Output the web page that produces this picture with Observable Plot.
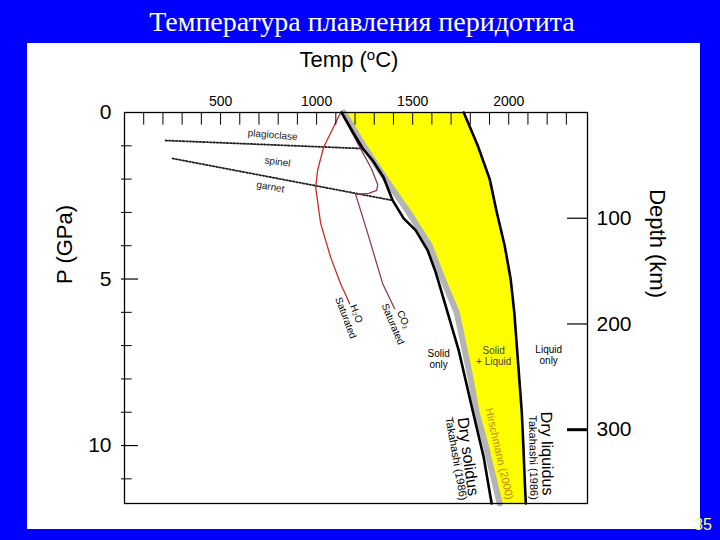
<!DOCTYPE html>
<html><head><meta charset="utf-8">
<script src="https://cdn.jsdelivr.net/npm/d3@7"></script>
<script src="https://cdn.jsdelivr.net/npm/@observablehq/plot@0.6"></script>
<style>
html,body{margin:0;padding:0;}
body{width:720px;height:540px;background:#0000ff;position:relative;overflow:hidden;font-family:"Liberation Sans",Arial,sans-serif;}
#title{position:absolute;left:0;top:4px;width:724px;text-align:center;color:#fff;font-family:"Liberation Serif","Times New Roman",serif;font-size:28px;line-height:36px;white-space:nowrap;}
#panel{position:absolute;left:27px;top:43px;width:673px;height:486px;background:#fff;}
#chart{position:absolute;left:0;top:0;}
#xlabel{position:absolute;left:222px;top:3px;width:200px;text-align:center;font-size:22px;line-height:28px;color:#000;}
#xlabel sup{font-size:15px;vertical-align:7px;line-height:0;}
#page{position:absolute;left:694px;top:515px;color:#ffff80;font-size:16px;line-height:20px;}
</style></head>
<body>
<div id="title">Температура плавления перидотита</div>
<div id="panel"><div id="chart"></div><div id="xlabel">Temp (<sup>o</sup>C)</div></div>
<div id="page">35</div>
<script>
// ---- data (T in °C, P in GPa) ----
const bandP    = [0, 1, 2, 3, 4, 5, 6, 7, 8, 9, 10, 11, 11.74];
const hirschT  = [1141, 1245, 1359, 1479, 1589, 1656, 1729, 1766, 1802, 1833, 1880, 1922, 1953];
const liquidT  = [1766, 1839, 1901, 1938, 1979, 2010, 2029, 2042, 2055, 2068, 2076, 2083, 2089];

const solidusP = [0, 0.6, 1.08, 1.44, 1.95, 2.34, 2.64, 3.18, 3.54, 4.14, 4.8, 5.5, 7.15, 8.95, 10.36, 11.74];
const solidusT = [1130, 1190, 1240, 1292, 1349, 1375, 1396, 1453, 1516, 1578, 1620, 1656, 1740, 1812, 1870, 1911];

const h2oP = [0, 1.05, 1.74, 2.25, 3.33, 4.35, 5.14, 5.74];
const h2oT = [1125, 1036, 1005, 995, 1021, 1073, 1125, 1172];

const co2P = [0, 1.1, 1.68, 2.16, 2.34, 2.43, 2.46, 3.63, 5.14, 5.89];
const co2T = [1128, 1230, 1285, 1318, 1313, 1271, 1203, 1266, 1344, 1406];

const plagBoundT = [214, 1229];
const plagBoundP = [0.84, 1.08];
const garnetBoundT = [250, 1396];
const garnetBoundP = [1.38, 2.64];

const tempTickLabels = [500, 1000, 1500, 2000];
const tempMinorTicks = [100,200,300,400,500,600,700,800,900,1000,1100,1200,1300,1400,1500,1600,1700,1800,1900,2000,2100,2200,2300];
const pTickLabels = [0, 5, 10];
const pMinorTicks = [1, 2, 3, 4, 6, 7, 8, 9, 11];
const depthTicks = [100, 200, 300];
const kmPerGPa = 31.5;

// ---- build tables ----
const zip = (Ts, Ps) => Ts.map((T, i) => ({T, P: Ps[i]}));
const band = bandP.map((P, i) => ({P, Tg: hirschT[i], Tl: liquidT[i]}));
const solidus = zip(solidusT, solidusP);
const h2o = zip(h2oT, h2oP);
const co2 = zip(co2T, co2P);
const plagB = zip(plagBoundT, plagBoundP);
const garnetB = zip(garnetBoundT, garnetBoundP);

const labels = [
  {text: "plagioclase", T: 771, P: 0.66, r: 5, fs: 10, c: "#222"},
  {text: "spinel", T: 797, P: 1.47, r: 8, fs: 10, c: "#222"},
  {text: "garnet", T: 760, P: 2.22, r: 10, fs: 10, c: "#222"},
  {text: "H₂O\nSaturated", T: 1182, P: 6.1, r: 69, fs: 10, c: "#000"},
  {text: "CO₂\nSaturated", T: 1427, P: 6.28, r: 67, fs: 10, c: "#000"},
  {text: "Solid\nonly", T: 1635, P: 7.39, r: 0, fs: 10, c: "#000"},
  {text: "Solid\n+ Liquid", T: 1922, P: 7.3, r: 0, fs: 10, c: "#444"},
  {text: "Liquid\nonly", T: 2208, P: 7.27, r: 0, fs: 10, c: "#000"},
  {text: "Dry solidus", T: 1792, P: 10.33, r: 82, fs: 16, c: "#000"},
  {text: "Takahashi (1986)", T: 1729, P: 10.39, r: 80, fs: 11, c: "#000"},
  {text: "Hirschmann (2000)", T: 1953, P: 10.24, r: 77, fs: 11, c: "#c08a00"},
  {text: "Dry liquidus", T: 2203, P: 10.24, r: 89, fs: 16, c: "#000"},
  {text: "Takahashi (1986)", T: 2130, P: 10.36, r: 89, fs: 11, c: "#000"}
];

const textMarks = labels.map(d => Plot.text([d], {
  x: "T", y: "P", text: "text", rotate: d.r, fontSize: d.fs, fill: d.c,
  textAnchor: "middle", lineAnchor: "middle", lineHeight: 1.15
}));

const chart = Plot.plot({
  width: 673, height: 486,
  marginLeft: 97, marginRight: 113, marginTop: 69, marginBottom: 26,
  style: {fontFamily: '"Liberation Sans", Arial, sans-serif', background: "transparent", overflow: "visible", color: "#000"},
  x: {domain: [0, 2410], label: null},
  y: {domain: [0, 11.74], reverse: true, label: null},
  marks: [
    Plot.areaX(band, {y: "P", x1: "Tg", x2: "Tl", fill: "#ffff00"}),
    Plot.line(band, {x: "Tg", y: "P", stroke: "#b4b4b4", strokeWidth: 6, strokeLinejoin: "round"}),
    Plot.line(plagB, {x: "T", y: "P", stroke: "#222", strokeWidth: 1.8, strokeDasharray: "1.6,1.8"}),
    Plot.line(garnetB, {x: "T", y: "P", stroke: "#222", strokeWidth: 1.8, strokeDasharray: "1.6,1.8"}),
    Plot.line(h2o, {x: "T", y: "P", stroke: "#cc2a2a", strokeWidth: 1.3, strokeLinejoin: "round"}),
    Plot.line(co2, {x: "T", y: "P", stroke: "#8c3a5c", strokeWidth: 1.3, strokeLinejoin: "round"}),
    Plot.line(solidus, {x: "T", y: "P", stroke: "#000", strokeWidth: 2.6, strokeLinejoin: "round"}),
    Plot.line(band, {x: "Tl", y: "P", stroke: "#000", strokeWidth: 2.6, strokeLinejoin: "round"}),
    Plot.frame({stroke: "#000", strokeWidth: 1.3}),
    Plot.ruleX(tempMinorTicks, {x: d => d, y1: 0, y2: 0.38, stroke: "#000", strokeWidth: 1}),
    Plot.ruleY(pMinorTicks, {y: d => d, x1: -16, x2: 40, stroke: "#000", strokeWidth: 1}),
    Plot.ruleY([5, 10], {y: d => d, x1: -16, x2: 73, stroke: "#000", strokeWidth: 1.2}),
    Plot.ruleY(depthTicks.filter(d => d !== 300), {y: d => d / kmPerGPa, x1: 2306, x2: 2410, stroke: "#000", strokeWidth: 1.2}),
    Plot.ruleY(depthTicks.filter(d => d === 300), {y: d => d / kmPerGPa, x1: 2306, x2: 2410, stroke: "#000", strokeWidth: 3}),
    Plot.text(depthTicks, {y: d => d / kmPerGPa, x: 2410, dx: 9, text: d => String(d), textAnchor: "start", fontSize: 21}),
    Plot.axisX(tempTickLabels, {anchor: "top", tickSize: 0, tickPadding: 7, fontSize: 14, label: null, tickFormat: d => String(d)}),
    Plot.axisY(pTickLabels, {anchor: "left", tickSize: 0, tickPadding: 13, fontSize: 21, label: null, tickFormat: d => String(d)}),
    Plot.text(["P (GPa)"], {frameAnchor: "left", dx: -60, dy: -24, rotate: -90, fontSize: 22, text: d => d}),
    Plot.text(["Depth (km)"], {frameAnchor: "right", dx: 70, dy: -10, rotate: 90, fontSize: 22, text: d => d}),
    ...textMarks
  ]
});
document.getElementById("chart").appendChild(chart);
</script>
</body></html>
